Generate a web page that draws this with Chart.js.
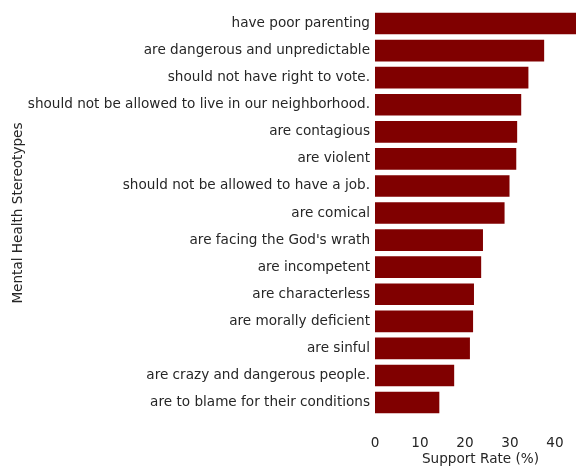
<!DOCTYPE html>
<html>
<head>
<meta charset="utf-8">
<script src="https://cdn.jsdelivr.net/npm/chart.js@4"></script>
<style>
  html, body { margin: 0; padding: 0; overflow: hidden; background: #fff; }
  #wrap { width: 586px; height: 466px; position: relative; }
</style>
</head>
<body>
<div id="wrap"><canvas id="grafica"></canvas></div>
<script>
const grafica = document.getElementById('grafica');

// stereotypes, sorted by support rate
const stereotypes = [
  "have poor parenting",
  "are dangerous and unpredictable",
  "should not have right to vote.",
  "should not be allowed to live in our neighborhood.",
  "are contagious",
  "are violent",
  "should not be allowed to have a job.",
  "are comical",
  "are facing the God's wrath",
  "are incompetent",
  "are characterless",
  "are morally deficient",
  "are sinful",
  "are crazy and dangerous people.",
  "are to blame for their conditions"
];
const supportRate = [44.7, 37.6, 34.1, 32.5, 31.6, 31.4, 29.9, 28.8, 24.0, 23.6, 22.0, 21.8, 21.1, 17.6, 14.3];
const xTicks = [0, 10, 20, 30, 40];

const textColor = '#262626';
const font = { family: "'DejaVu Sans'", size: 13.6 };

let myChart = new Chart(grafica, {
  type: 'bar',
  data: {
    labels: stereotypes,
    datasets: [{
      data: supportRate,
      backgroundColor: '#800000',
      borderWidth: 0,
      barPercentage: 0.8,
      categoryPercentage: 1.0
    }]
  },
  options: {
    indexAxis: 'y',
    responsive: true,
    maintainAspectRatio: false,
    animation: false,
    layout: { padding: { top: 10, right: 0, bottom: 0, left: 0 } },
    scales: {
      x: {
        min: 0,
        max: 46.9,
        border: { display: false },
        grid: { display: false, drawTicks: false },
        afterBuildTicks: (axis) => {
          axis.ticks = xTicks.map(v => ({ value: v }));
        },
        ticks: { color: textColor, font: font, padding: 19.5 },
        title: {
          display: true,
          text: 'Support Rate (%)',
          color: textColor,
          font: { family: "'DejaVu Sans'", size: 13.6, lineHeight: 1.0 },
          padding: { top: -19, bottom: 0 }
        }
      },
      y: {
        border: { display: false },
        grid: { display: false, drawTicks: false },
        ticks: { color: textColor, font: font, padding: 5, autoSkip: false },
        afterFit: (axis) => {
          axis.width = 375;
          axis.paddingTop = 0;
          axis.paddingBottom = 0;
        },
        title: {
          display: true,
          text: 'Mental Health Stereotypes',
          color: textColor,
          font: font,
          padding: { top: 10, bottom: 0 }
        }
      }
    },
    plugins: {
      legend: { display: false },
      tooltip: { enabled: false }
    }
  }
});
</script>
</body>
</html>
